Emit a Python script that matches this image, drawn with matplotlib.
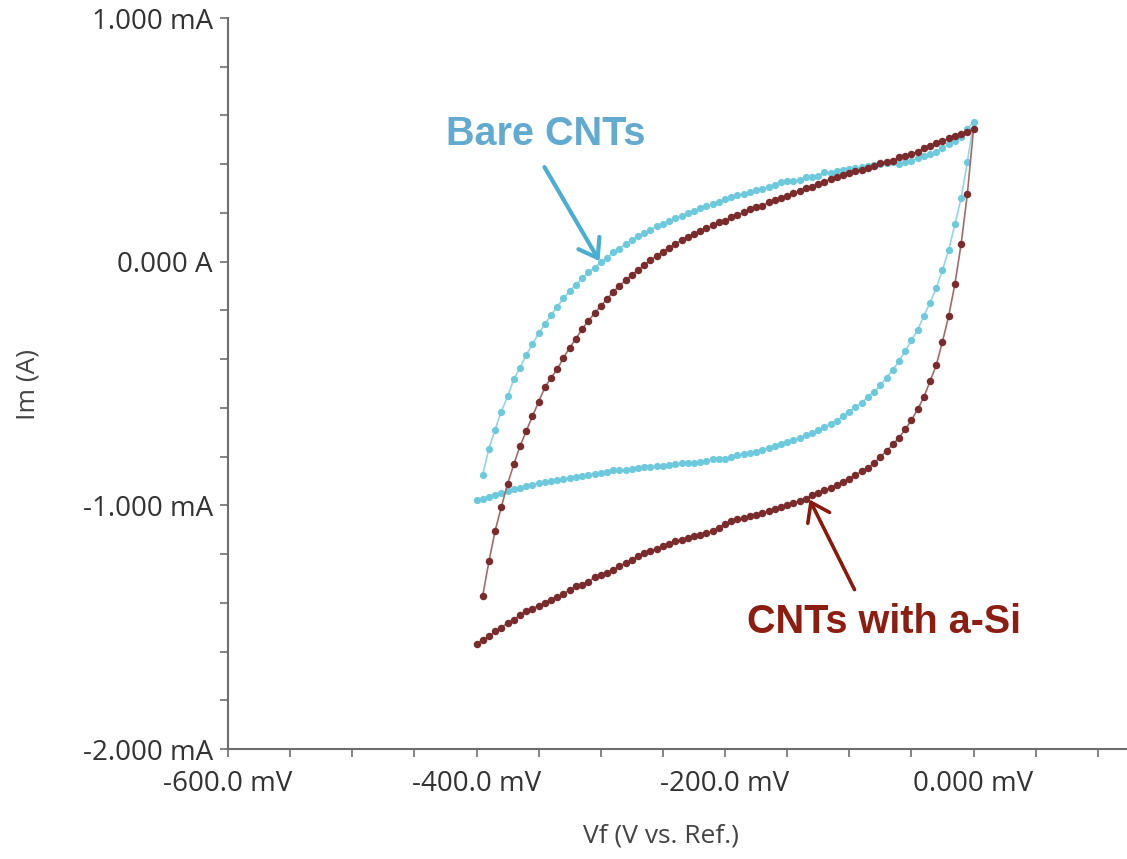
import matplotlib
matplotlib.use('Agg')
import matplotlib.pyplot as plt

# potential sweep points (mV) — anodic branch then cathodic branch
V_up = [-395, -390, -385, -380, -375, -370, -365, -360, -355, -350,
        -345, -340, -335, -330, -325, -320, -315, -310, -305, -300,
        -295, -290, -285, -280, -275, -270, -265, -260, -255, -250,
        -245, -240, -235, -230, -225, -220, -215, -210, -205, -200,
        -195, -190, -185, -180, -175, -170, -165, -160, -155, -150,
        -145, -140, -135, -130, -125, -120, -115, -110, -105, -100,
        -95, -90, -85, -80, -75, -70, -65, -60, -55, -50,
        -45, -40, -35, -30, -25, -20, -15, -10, -5, 0]
V_down = [-5, -10, -15, -20, -25, -30, -35, -40, -45, -50,
          -55, -60, -65, -70, -75, -80, -85, -90, -95, -100,
          -105, -110, -115, -120, -125, -130, -135, -140, -145, -150,
          -155, -160, -165, -170, -175, -180, -185, -190, -195, -200,
          -205, -210, -215, -220, -225, -230, -235, -240, -245, -250,
          -255, -260, -265, -270, -275, -280, -285, -290, -295, -300,
          -305, -310, -315, -320, -325, -330, -335, -340, -345, -350,
          -355, -360, -365, -370, -375, -380, -385, -390, -395, -400]

# Bare CNTs, current in mA
bare_up = [-0.874, -0.767, -0.689, -0.615, -0.553, -0.483, -0.435, -0.383, -0.339, -0.294,
           -0.257, -0.219, -0.184, -0.151, -0.120, -0.095, -0.069, -0.044, -0.024, -0.003,
           0.014, 0.038, 0.054, 0.072, 0.088, 0.104, 0.117, 0.131, 0.145, 0.154,
           0.165, 0.178, 0.188, 0.198, 0.209, 0.219, 0.227, 0.236, 0.245, 0.256,
           0.264, 0.273, 0.277, 0.284, 0.293, 0.298, 0.306, 0.313, 0.326, 0.331,
           0.330, 0.336, 0.346, 0.346, 0.350, 0.367, 0.364, 0.372, 0.377, 0.380,
           0.383, 0.387, 0.391, 0.397, 0.401, 0.405, 0.408, 0.401, 0.408, 0.413,
           0.424, 0.435, 0.442, 0.451, 0.467, 0.483, 0.497, 0.510, 0.545, 0.572]
bare_down = [0.408, 0.260, 0.154, 0.047, -0.034, -0.108, -0.168, -0.223, -0.280, -0.323,
             -0.367, -0.408, -0.445, -0.476, -0.508, -0.533, -0.554, -0.579, -0.597, -0.616,
             -0.634, -0.652, -0.665, -0.679, -0.691, -0.702, -0.712, -0.723, -0.732, -0.739,
             -0.750, -0.758, -0.764, -0.771, -0.782, -0.784, -0.791, -0.795, -0.802, -0.808,
             -0.808, -0.810, -0.819, -0.821, -0.825, -0.827, -0.828, -0.832, -0.835, -0.838,
             -0.839, -0.841, -0.843, -0.846, -0.849, -0.853, -0.856, -0.857, -0.862, -0.866,
             -0.871, -0.876, -0.880, -0.885, -0.887, -0.891, -0.894, -0.901, -0.903, -0.908,
             -0.917, -0.922, -0.928, -0.934, -0.942, -0.950, -0.956, -0.964, -0.972, -0.980]

# CNTs with a-Si, current in mA
asi_up = [-1.371, -1.230, -1.104, -1.006, -0.912, -0.832, -0.757, -0.695, -0.634, -0.576,
          -0.516, -0.476, -0.442, -0.394, -0.353, -0.316, -0.277, -0.243, -0.212, -0.182,
          -0.154, -0.124, -0.099, -0.076, -0.055, -0.034, -0.013, 0.006, 0.024, 0.040,
          0.058, 0.072, 0.088, 0.102, 0.113, 0.125, 0.138, 0.149, 0.161, 0.168,
          0.182, 0.191, 0.202, 0.216, 0.223, 0.229, 0.243, 0.254, 0.262, 0.270,
          0.280, 0.291, 0.302, 0.307, 0.319, 0.328, 0.339, 0.346, 0.356, 0.364,
          0.371, 0.376, 0.383, 0.391, 0.404, 0.410, 0.414, 0.428, 0.435, 0.442,
          0.451, 0.465, 0.476, 0.486, 0.494, 0.506, 0.515, 0.524, 0.531, 0.545]
asi_down = [0.277, 0.072, -0.092, -0.223, -0.328, -0.425, -0.490, -0.556, -0.606, -0.651,
            -0.688, -0.723, -0.750, -0.778, -0.801, -0.826, -0.846, -0.860, -0.876, -0.890,
            -0.903, -0.915, -0.928, -0.939, -0.949, -0.959, -0.972, -0.983, -0.991, -1.000,
            -1.008, -1.017, -1.024, -1.031, -1.038, -1.045, -1.051, -1.058, -1.065, -1.076,
            -1.091, -1.106, -1.113, -1.120, -1.127, -1.134, -1.141, -1.148, -1.158, -1.168,
            -1.178, -1.186, -1.195, -1.209, -1.223, -1.236, -1.250, -1.264, -1.277, -1.287,
            -1.296, -1.314, -1.326, -1.333, -1.346, -1.364, -1.375, -1.387, -1.400, -1.412,
            -1.424, -1.435, -1.449, -1.470, -1.482, -1.503, -1.517, -1.538, -1.552, -1.569]

x_major = [-600, -400, -200, 0]
x_labels = ['-600.0 mV', '-400.0 mV', '-200.0 mV', '0.000 mV']
x_minor = [-550, -500, -450, -350, -300, -250, -150, -100, -50, 50, 100]
y_major = [-2, -1, 0, 1]
y_labels = ['-2.000 mA', '-1.000 mA', '0.000 A', '1.000 mA']
y_minor = [-1.8, -1.6, -1.4, -1.2, -0.8, -0.6, -0.4, -0.2, 0.2, 0.4, 0.6, 0.8]

W, H = 1127, 859
fig = plt.figure(figsize=(W / 100, H / 100), dpi=100)
ax = fig.add_axes([228 / W, 1 - 749 / H, (W - 228) / W, (749 - 18) / H])

V = V_up + V_down
ax.plot(V, bare_up + bare_down, '-', color='#92d6e4', lw=1.2, zorder=2)
ax.plot(V, bare_up + bare_down, 'o', color='#6dcadc', ms=5.2, mew=0, zorder=3)
ax.plot(V, asi_up + asi_down, '-', color='#a66a6a', lw=1.2, zorder=4)
ax.plot(V, asi_up + asi_down, 'o', color='#7a2c2c', ms=5.4, mew=0, zorder=5)

ax.set_xlim(-600, 123.5)
ax.set_ylim(-2, 1)

for s in ['top', 'right']:
    ax.spines[s].set_visible(False)
for s in ['left', 'bottom']:
    ax.spines[s].set_color('#6e6e6e')
    ax.spines[s].set_linewidth(1.5)

ax.set_xticks(x_major)
ax.set_xticklabels(x_labels)
ax.set_xticks(x_minor, minor=True)
ax.set_yticks(y_major)
ax.set_yticklabels(y_labels)
ax.set_yticks(y_minor, minor=True)
ax.tick_params(which='both', direction='out', length=6, width=1.2, color='#6e6e6e')
ax.tick_params(axis='y', which='major', pad=5, labelsize=20, labelcolor='#333333')
ax.tick_params(axis='x', which='major', pad=9, labelsize=20, labelcolor='#333333')
for t in ax.get_xticklabels() + ax.get_yticklabels():
    t.set_family('Open Sans')

fig.text(28 / W, 1 - 385 / H, 'Im (A)', rotation=90, ha='center', va='center',
         fontsize=19, color='#444444', family='Open Sans')
fig.text(661 / W, 1 - 836 / H, 'Vf (V vs. Ref.)', ha='center', va='center',
         fontsize=19, color='#444444', family='Open Sans')

# annotations
ax.text(-344.5, 0.524, 'Bare CNTs', ha='center', va='center', fontsize=28.5,
        fontweight='bold', color='#62aad0', family='Liberation Sans')
ax.annotate('', xy=(-301, 0.002), xytext=(-345.3, 0.388),
            arrowprops=dict(arrowstyle='->,head_length=0.5,head_width=0.35',
                            lw=3, color='#4aaed3', mutation_scale=25,
                            shrinkA=0, shrinkB=0))
ax.text(-72.4, -1.478, 'CNTs with a-Si', ha='center', va='center', fontsize=28.5,
        fontweight='bold', color='#8c1d10', family='Liberation Sans')
ax.annotate('', xy=(-132, -0.976), xytext=(-95.8, -1.346),
            arrowprops=dict(arrowstyle='->,head_length=0.5,head_width=0.35',
                            lw=2.6, color='#8b1a0e', mutation_scale=25,
                            shrinkA=0, shrinkB=0))

fig.savefig('out.png', dpi=100)
